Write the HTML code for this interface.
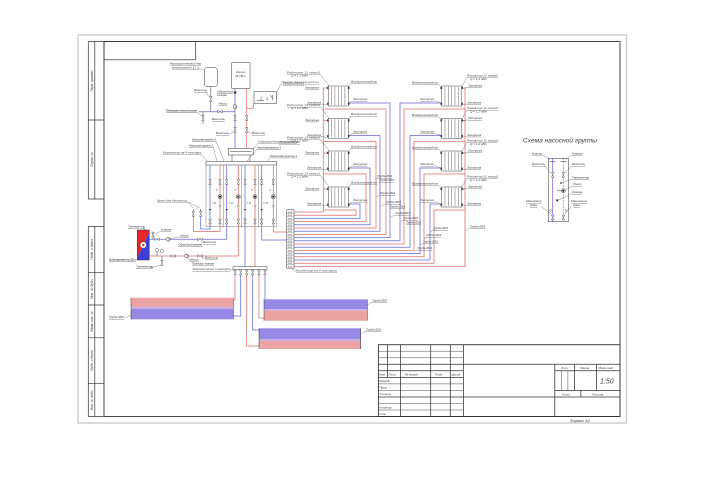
<!DOCTYPE html>
<html><head><meta charset="utf-8"><title>Схема отопления</title>
<style>
html,body{margin:0;padding:0;background:#fff;width:720px;height:480px;overflow:hidden}
svg{display:block}
text{font-family:"Liberation Sans","Noto Sans CJK SC",sans-serif;font-style:italic;fill:#3a3a3a}
.t{font-size:3.1px;text-decoration:underline}
.n{font-size:3.1px}
.s{font-size:3.4px}
.r{stroke:#e36b6b;stroke-width:0.75;fill:none}
.b{stroke:#6a66dd;stroke-width:0.75;fill:none}
.k{stroke:#333;stroke-width:0.5;fill:none}
.l{stroke:#555;stroke-width:0.35;fill:none}
</style></head><body>
<svg width="720" height="480" viewBox="0 0 720 480" xmlns="http://www.w3.org/2000/svg" xmlns:xlink="http://www.w3.org/1999/xlink">
<defs>
 <g id="vv"><path d="M-1.3,-2.4 L1.3,-2.4 L-1.3,2.4 L1.3,2.4 Z" fill="#fff" stroke="#333" stroke-width="0.4"/></g>
 <g id="vh"><path d="M-2.4,-1.3 L-2.4,1.3 L2.4,-1.3 L2.4,1.3 Z" fill="#fff" stroke="#333" stroke-width="0.4"/></g>
 <g id="pump"><circle r="2" fill="#fff" stroke="#333" stroke-width="0.45"/><path d="M-0.9,-1.5 L1.7,0 L-0.9,1.5" fill="none" stroke="#333" stroke-width="0.4"/></g>
 <g id="pumpd"><circle r="2" fill="#fff" stroke="#222" stroke-width="0.5"/><circle r="1.1" fill="#222"/></g>
 <g id="rad">
   <rect x="0" y="0" width="20" height="20" fill="#fff" stroke="#444" stroke-width="0.5"/>
   <path d="M3.3,0.8V19.2 M6.6,0.8V19.2 M10,0.8V19.2 M13.3,0.8V19.2 M16.6,0.8V19.2" stroke="#555" stroke-width="0.45"/>
   <rect x="-1.2" y="0.8" width="1.6" height="2.2" fill="#333"/>
   <rect x="19.6" y="0.8" width="1.6" height="2.2" fill="#333"/>
   <rect x="-1.2" y="16.6" width="1.6" height="2.2" fill="#333"/>
   <rect x="19.6" y="16.6" width="1.6" height="2.2" fill="#333"/>
 </g>
 <pattern id="hl" width="4" height="1.6" patternUnits="userSpaceOnUse"><path d="M0,0.8H4" stroke="#fff" stroke-width="0.35" stroke-opacity="0.35"/></pattern>
</defs>

<!-- sheet & frame -->
<rect x="78" y="35" width="548.5" height="388" fill="none" stroke="#cdcdcd" stroke-width="1.4"/>
<rect x="104" y="41.5" width="516" height="375" fill="none" stroke="#333" stroke-width="0.9"/>
<path d="M88.3,41.5V199 M94.8,41.5V199 M88.3,41.5H104 M88.3,120H104 M88.3,199H104 M88.3,226.4V416.5 M94.8,226.4V416.5 M88.3,226.4H104 M88.3,272.3H104 M88.3,305H104 M88.3,337.8H104 M88.3,383.7H104 M88.3,416.5H104" stroke="#333" stroke-width="0.7" fill="none"/>
<rect x="104" y="41.5" width="91.7" height="18.3" fill="none" stroke="#333" stroke-width="0.7"/>
<g class="s" text-anchor="middle">
<text transform="translate(93,80.7) rotate(-90)" font-size="3.3">Перв. примен.</text>
<text transform="translate(93,159.5) rotate(-90)" font-size="3.3">Справ. №</text>
<text transform="translate(93,249.3) rotate(-90)" font-size="3.3">Подп. и дата</text>
<text transform="translate(93,288.6) rotate(-90)" font-size="3.3">Инв. № дубл.</text>
<text transform="translate(93,321.4) rotate(-90)" font-size="3.3">Взам. инв. №</text>
<text transform="translate(93,360.7) rotate(-90)" font-size="3.3">Подп. и дата</text>
<text transform="translate(93,400) rotate(-90)" font-size="3.3">Инв. № подл.</text>
</g>

<!-- title block -->
<g stroke="#333" fill="none">
<rect x="378.4" y="344.7" width="241.6" height="71.8" stroke-width="0.9"/>
<path stroke-width="0.45" d="M378.4,351.2H463.4 M378.4,357.8H463.4 M378.4,383.9H463.4 M378.4,390.4H463.4 M378.4,403.5H463.4 M378.4,410H463.4"/>
<path stroke-width="0.75" d="M378.4,364.3H620 M378.4,370.8H463.4 M378.4,377.4H463.4 M378.4,397H620 M387.5,344.7V377.4 M400.6,344.7V416.5 M430.7,344.7V416.5 M450.3,344.7V416.5 M463.4,344.7V416.5 M554.8,364.3V416.5 M554.8,370.8H620 M554.8,390.4H620 M574.4,364.3V390.4 M596.6,364.3V390.4 M580.9,390.4V397"/>
<path stroke-width="0.45" d="M561.3,370.8V390.4 M567.9,370.8V390.4"/>
</g>
<g class="n">
<text x="379.2" y="375.5">Изм.</text><text x="388.3" y="375.5">Лист</text><text x="405" y="375.5">№ докум.</text><text x="435" y="375.5">Подп.</text><text x="452" y="375.5">Дата</text>
<text x="379.2" y="382.2">Разраб.</text><text x="379.2" y="388.7">Пров.</text><text x="379.2" y="395.2">Т.контр.</text><text x="379.2" y="408.3">Н.контр.</text><text x="379.2" y="414.8">Утв.</text>
<text x="561" y="369">Лит.</text><text x="580" y="369">Масса</text><text x="598.5" y="369">Масштаб</text>
<text x="562" y="395.3">Лист</text><text x="592" y="395.3">Листов</text>
<text x="570" y="421.8" font-size="3.6">Формат А3</text>
</g>
<text x="600" y="383.5" font-size="7">1:50</text>

<!-- ============ boiler room top ============ -->
<rect x="204.3" y="67.7" width="13" height="19" rx="2.5" fill="#fff" stroke="#333" stroke-width="0.5"/>
<text class="t" x="170" y="64.5" textLength="31">Расширительный бак</text>
<text class="t" x="172" y="68.3" textLength="27">мембранный 12 л</text>
<path class="l" d="M199,69H202L205,71"/>
<path class="k" d="M210.8,86.7V111.7"/>
<use href="#vv" x="210.8" y="99"/>
<text class="t" x="194" y="91">Вентиль</text><path class="l" d="M205,91.5L209.5,97"/>

<rect x="231.7" y="62.7" width="18.3" height="25.6" fill="#fff" stroke="#333" stroke-width="0.5"/>
<text class="n" x="236" y="73">Котел</text>
<text class="n" x="235" y="77">45 кВт</text>

<path class="b" d="M199,111.7H235 M235,88.3V148.3"/>
<path class="r" d="M246.7,88.3V148.3 M246.7,108.3H253.3V103.3"/>
<use href="#vh" x="220" y="111.7"/>
<path class="k" d="M203,111.7V124"/>
<use href="#vv" x="203" y="118"/>
<path d="M233.2,91.6H236.8L235,94.6Z" fill="#333"/>
<use href="#pump" x="235" y="106.7"/>
<use href="#vv" x="235" y="118"/>
<use href="#vv" x="246.7" y="118"/>
<use href="#vv" x="235" y="130"/>
<use href="#vv" x="246.7" y="130"/>
<text class="t" x="217" y="92.5">Обратный</text>
<text class="n" x="217" y="96.2">клапан</text>
<text class="t" x="218.5" y="104.5">Насос</text>
<text class="t" x="166" y="111.3" textLength="31">Предохранительный клапан</text>
<path class="l" d="M197,112L202,116"/>
<text class="t" x="211.7" y="120">Вентиль</text>
<text class="t" x="216" y="134">Вентиль</text><path class="l" d="M229,134.5L234,131"/>
<text class="t" x="252" y="134">Вентиль</text><path class="l" d="M252,134.5L248,131"/>

<rect x="254" y="91.7" width="22.7" height="11.6" fill="#fff" stroke="#333" stroke-width="0.5"/>
<path class="k" d="M257,100.5h7 M261,96.5v4 M267,97v3.5 M270,95l2.5,3.5 M272.5,95v5" stroke-width="0.4"/>
<text class="t" x="281" y="83" textLength="38">Группа безопасности</text>
<path class="l" d="M281,83.6L277,91.5"/>

<rect x="228.3" y="148.3" width="25" height="6.7" fill="#fff" stroke="#333" stroke-width="0.5"/>
<path class="k" d="M230,151.6H251.5" stroke-width="0.35"/>
<path class="k" d="M232,155V161.7 M250,155V161.7"/>
<rect x="206" y="161.7" width="70.7" height="3.3" fill="#fff" stroke="#333" stroke-width="0.5"/>
<text class="t" x="192" y="140.5" textLength="24">Насосная группа 3</text><path class="l" d="M216,141L224,161"/>
<text class="t" x="189" y="146.5" textLength="24">Насосная группа 2</text><path class="l" d="M213,147L217,161"/>
<text class="t" x="163" y="153.5" textLength="38">Коллектор на 4 контура</text><path class="l" d="M201,154L207,161.5"/>
<text class="t" x="258" y="142.7" textLength="39">Гидравлическая стрелка</text><path class="l" d="M258,143.3L253.5,149"/>
<text class="t" x="257" y="148.6" textLength="24">Насосная группа 1</text><path class="l" d="M257,149.2L247,161"/>
<text class="t" x="270" y="156.8" textLength="27">Насосная группа 4</text><path class="l" d="M270,157.4L267,161"/>

<!-- pump groups block -->
<path d="M206,165V226.7H276.7V165 M223.3,165V226.7 M241.7,165V226.7 M258.3,165V226.7" stroke="#555" stroke-width="0.4" fill="none"/>
<path class="b" d="M210,165V226.7 M226.7,165V226.7 M245,165V226.7 M261.7,165V226.7"/>
<path class="r" d="M220,165V226.7 M238.3,165V226.7 M255,165V226.7 M273.3,165V226.7"/>
<g>
<use href="#vv" x="210" y="182"/><use href="#vv" x="220" y="182"/><use href="#vv" x="226.7" y="182"/><use href="#vv" x="238.3" y="182"/>
<use href="#vv" x="245" y="182"/><use href="#vv" x="255" y="182"/><use href="#vv" x="261.7" y="182"/><use href="#vv" x="273.3" y="182"/>
<use href="#pumpd" x="220" y="196.7"/><use href="#pumpd" x="238.3" y="196.7"/><use href="#pumpd" x="255" y="196.7"/><use href="#pumpd" x="273.3" y="196.7"/>
<use href="#vv" x="210" y="221.5"/><use href="#vv" x="220" y="221.5"/><use href="#vv" x="226.7" y="221.5"/><use href="#vv" x="238.3" y="221.5"/>
<use href="#vv" x="245" y="221.5"/><use href="#vv" x="255" y="221.5"/><use href="#vv" x="261.7" y="221.5"/><use href="#vv" x="273.3" y="221.5"/>
</g>
<g fill="#fff" stroke="#333" stroke-width="0.35">
<circle cx="220" cy="206" r="1"/><circle cx="238.3" cy="206" r="1"/><circle cx="255" cy="206" r="1"/><circle cx="273.3" cy="206" r="1"/>
</g>
<g fill="#333">
<path d="M208.8,209h2.4l-1.2,1.8z M225.5,209h2.4l-1.2,1.8z M243.8,209h2.4l-1.2,1.8z M260.5,209h2.4l-1.2,1.8z"/>
</g>
<g class="n">
<text x="216" y="191" font-size="2.3">Н</text><text x="234.5" y="191" font-size="2.3">Н</text><text x="251.2" y="191" font-size="2.3">Н</text><text x="269.5" y="191" font-size="2.3">Н</text>
<text x="212" y="204" font-size="2.3">t° М</text><text x="228.5" y="204" font-size="2.3">t° М</text><text x="246.8" y="204" font-size="2.3">t° М</text><text x="263.5" y="204" font-size="2.3">t° М</text>
</g>

<!-- balancing + DHW -->
<use href="#vv" x="193.3" y="214"/><use href="#vv" x="200.7" y="214"/>
<path class="k" d="M193.3,209V211.6 M200.7,209V211.6"/>
<path class="r" d="M193.3,216.4V231.5H220V226.7"/>
<path class="b" d="M200.7,216.4V229H210V226.7"/>
<text class="t" x="157" y="201.5" textLength="31">Кран для балансир.</text>
<path class="l" d="M188,202L193,208 M188,202L200,208"/>

<polygon points="137.3,230 149.3,230 149.3,232.5 137.3,257.5" fill="#e8262b"/>
<polygon points="149.3,232.5 149.3,260 137.3,260 137.3,257.5" fill="#3b3fd6"/>
<rect x="137.3" y="230" width="12" height="30" fill="none" stroke="#333" stroke-width="0.5"/>
<circle cx="143.3" cy="245" r="3.2" fill="#fff" stroke="#333" stroke-width="0.4"/>
<circle cx="143.3" cy="245" r="1.2" fill="#e8262b"/>
<path class="b" d="M149.3,239.3H226.7V226.7"/>
<path class="r" d="M149.3,256H238.3V226.7"/>
<use href="#vh" x="157" y="239.3"/><use href="#pump" x="168.3" y="239.3"/><use href="#vh" x="200" y="239.3"/>
<use href="#vh" x="173" y="256"/><use href="#pump" x="186.7" y="256"/><use href="#vh" x="200" y="256"/>
<path class="k" d="M153,239.3V232.5 M157,251.3V256 M162,256V262"/>
<use href="#vv" x="153" y="234.5"/>
<circle cx="157" cy="250" r="1.6" fill="#fff" stroke="#333" stroke-width="0.4"/>
<circle cx="162" cy="251" r="1.6" fill="#fff" stroke="#333" stroke-width="0.4"/>
<use href="#vv" x="162" y="263"/>
<text class="t" x="128" y="227.5">Термометр</text><path class="l" d="M143,228L151,234"/>
<text class="t" x="161" y="230.5">Клапан</text><path class="l" d="M161,231L155,234"/>
<text class="t" x="109" y="260.5" textLength="27">Водонагреватель 200 л</text><path class="l" d="M136,261L138,258"/>
<text class="t" x="136" y="267.5">Термометр</text><path class="l" d="M150,268L161,265"/>
<text class="t" x="180" y="236.5">Насос</text><path class="l" d="M180,237L170,238.5"/>
<text class="t" x="178" y="245.5" textLength="24">Обратный клапан</text>
<text class="t" x="203" y="243">Вентиль</text><path class="l" d="M203,243.5L201,241"/>
<text class="t" x="190" y="260.5">Насос</text><path class="l" d="M190,261L188,258"/>
<text class="t" x="205" y="258.5">Вентиль</text><path class="l" d="M205,259L201.5,257.5"/>
<text class="t" x="192" y="264.5" textLength="22">Предохр. клапан</text>

<!-- floor heating collector -->
<path class="b" d="M245,226.7V266.7"/>
<path class="r" d="M255,226.7V266.7"/>
<rect x="233" y="266.7" width="34" height="2.6" fill="#fff" stroke="#333" stroke-width="0.45"/>
<g>
<use href="#vv" x="235" y="272.5"/><use href="#vv" x="240.7" y="272.5"/><use href="#vv" x="246.7" y="272.5"/>
<use href="#vv" x="252.7" y="272.5"/><use href="#vv" x="259" y="272.5"/><use href="#vv" x="265" y="272.5"/>
</g>
<path class="r" d="M235,274.9V300H233.3 M246.7,274.9V346H259 M259,274.9V318H264"/>
<path class="b" d="M240.7,274.9V316H233.3 M252.7,274.9V330H259 M265,274.9V299.3"/>
<text class="t" x="193" y="270" textLength="37">Коллектор на 3 контура</text><path class="l" d="M230,270.5L233.5,269"/>

<!-- floor loops -->
<rect x="131" y="297.7" width="102.3" height="9" fill="#eb9c9c"/>
<rect x="131" y="306.7" width="102.3" height="2.3" fill="#c9a6dc"/>
<rect x="131" y="309" width="102.3" height="10.3" fill="#8d80e4"/>
<rect x="131" y="297.7" width="102.3" height="21.6" fill="url(#hl)"/>
<path class="k" d="M131,297.7V319.3 M233.3,297.7V319.3" stroke-width="0.4"/>
<text class="t" x="109" y="318">Труба Ø20</text><path class="l" d="M125,318.5L131,315"/>

<rect x="264" y="299.3" width="103.3" height="10" fill="#8d80e4"/>
<rect x="264" y="309.3" width="103.3" height="1.4" fill="#c9a6dc"/>
<rect x="264" y="310.7" width="103.3" height="10" fill="#eb9c9c"/>
<rect x="264" y="299.3" width="103.3" height="21.4" fill="url(#hl)"/>
<path class="k" d="M264,299.3V320.7 M367.3,299.3V320.7" stroke-width="0.4"/>
<text class="t" x="372" y="301.5">Труба Ø20</text><path class="l" d="M372,302L367.5,305"/>

<rect x="259" y="328.3" width="101.7" height="11" fill="#8d80e4"/>
<rect x="259" y="339.3" width="101.7" height="1.7" fill="#c9a6dc"/>
<rect x="259" y="341" width="101.7" height="8" fill="#eb9c9c"/>
<rect x="259" y="328.3" width="101.7" height="20.7" fill="url(#hl)"/>
<path class="k" d="M259,328.3V349 M360.7,328.3V349" stroke-width="0.4"/>
<text class="t" x="366" y="330.5">Труба Ø20</text><path class="l" d="M366,331L361,334"/>

<!-- ============ radiators ============ -->
<path class="r" d="M328.3,88H323.3V212H294 M323.3,120.5H328.3 M323.3,153H328.3 M323.3,189H328.3"/>
<path class="r" d="M323.3,109H386V234.4H294 M323.3,141.5H376V228H294 M323.3,174H366V221.6H294 M323.3,210H356V215.2H294"/>
<path class="b" d="M348.3,103H390V237.6H294 M348.3,135.5H380V231.2H294 M348.3,168H370V224.8H294 M348.3,204H360V218.4H294"/>
<path class="r" d="M461.7,88H465V266.4H294 M461.7,120.5H465 M461.7,153H465 M461.7,189H465"/>
<path class="r" d="M465,109H404V244H294 M465,141.5H414V250.4H294 M465,174H424V256.8H294 M465,210H434V263.2H294"/>
<path class="b" d="M441.7,103H400V240.8H294 M441.7,135.5H410V247.2H294 M441.7,168H420V253.6H294 M441.7,204H430V260H294"/>
<path class="b" d="M261.7,226.7V240H286.7"/>
<path class="r" d="M273.3,226.7V232H286.7"/>

<rect x="286.7" y="209.8" width="7.3" height="58.4" fill="#fff" stroke="#333" stroke-width="0.5"/>
<path class="l" d="M286.7,213.6h7.3 M286.7,216.8h7.3 M286.7,220h7.3 M286.7,223.2h7.3 M286.7,226.4h7.3 M286.7,229.6h7.3 M286.7,232.8h7.3 M286.7,236h7.3 M286.7,239.2h7.3 M286.7,242.4h7.3 M286.7,245.6h7.3 M286.7,248.8h7.3 M286.7,252h7.3 M286.7,255.2h7.3 M286.7,258.4h7.3 M286.7,261.6h7.3 M286.7,264.8h7.3"/>
<g font-size="2.2">
<text x="287.8" y="213">Ø16</text><text x="287.8" y="216.2">Ø16</text><text x="287.8" y="219.4">Ø16</text><text x="287.8" y="222.6">Ø16</text><text x="287.8" y="225.8">Ø16</text><text x="287.8" y="229">Ø16</text><text x="287.8" y="232.2">Ø16</text><text x="287.8" y="235.4">Ø16</text><text x="287.8" y="238.6">Ø16</text><text x="287.8" y="241.8">Ø16</text><text x="287.8" y="245">Ø16</text><text x="287.8" y="248.2">Ø16</text><text x="287.8" y="251.4">Ø16</text><text x="287.8" y="254.6">Ø16</text><text x="287.8" y="257.8">Ø16</text><text x="287.8" y="261">Ø16</text><text x="287.8" y="264.2">Ø16</text><text x="287.8" y="267.4">Ø16</text>
</g>
<text class="t" x="296" y="271.6" textLength="41">Коллектор на 8 контуров</text><path class="l" d="M296,272.2L292,268.5"/>

<use href="#rad" x="328.3" y="86"/><use href="#rad" x="328.3" y="118.5"/><use href="#rad" x="328.3" y="151"/><use href="#rad" x="328.3" y="187"/>
<use href="#rad" x="441.7" y="86"/><use href="#rad" x="441.7" y="118.5"/><use href="#rad" x="441.7" y="151"/><use href="#rad" x="441.7" y="187"/>

<g>
<text class="t" x="287" y="73.5" textLength="33">Радиатор 11 секций</text><text class="n" x="291" y="76.7">Q = 1,2 кВт</text><path class="l" d="M320,74L329,85.5"/>
<text class="t" x="305" y="88.3">Заглушка</text>
<text class="t" x="351" y="82.7" textLength="26">Воздухоотводчик</text><path class="l" d="M351,83.3L348.5,87"/>
<text class="t" x="353" y="100">Заглушка</text><path class="l" d="M353,100.6L349,103"/>
<text class="t" x="307" y="103.3">Заглушка</text><path class="l" d="M321,103.9L327.5,105"/>
<text class="t" x="283" y="84" textLength="21">Термоклапан</text>

<text class="t" x="287" y="106" textLength="33">Радиатор 11 секций</text><text class="n" x="291" y="109.2">Q = 1,2 кВт</text><path class="l" d="M320,106.5L329,118"/>
<text class="t" x="305" y="120.8">Заглушка</text>
<text class="t" x="351" y="115.2" textLength="26">Воздухоотводчик</text><path class="l" d="M351,115.8L348.5,119.5"/>
<text class="t" x="353" y="132.5">Заглушка</text><path class="l" d="M353,133.1L349,135.5"/>
<text class="t" x="307" y="135.8">Заглушка</text><path class="l" d="M321,136.4L327.5,137.5"/>

<text class="t" x="287" y="138.5" textLength="33">Радиатор 11 секций</text><text class="n" x="291" y="141.7">Q = 1,2 кВт</text><path class="l" d="M320,139L329,150.5"/>
<text class="t" x="305" y="153.3">Заглушка</text>
<text class="t" x="351" y="147.7" textLength="26">Воздухоотводчик</text><path class="l" d="M351,148.3L348.5,152"/>
<text class="t" x="353" y="165">Заглушка</text><path class="l" d="M353,165.6L349,168"/>
<text class="t" x="307" y="168.3">Заглушка</text><path class="l" d="M321,168.9L327.5,170"/>
<text class="t" x="279" y="143" textLength="21">Термоклапан</text>

<text class="t" x="287" y="174.5" textLength="33">Радиатор 11 секций</text><text class="n" x="291" y="177.7">Q = 1,2 кВт</text><path class="l" d="M320,175L329,186.5"/>
<text class="t" x="305" y="189.3">Заглушка</text>
<text class="t" x="351" y="183.7" textLength="26">Воздухоотводчик</text><path class="l" d="M351,184.3L348.5,188"/>
<text class="t" x="353" y="201">Заглушка</text><path class="l" d="M353,201.6L349,204"/>
<text class="t" x="307" y="204.3">Заглушка</text><path class="l" d="M321,204.9L327.5,206"/>
</g>

<g>
<text class="t" x="467" y="76.7" textLength="31">Радиатор 11 секций</text><text class="n" x="470" y="80">Q = 1,2 кВт</text><path class="l" d="M467,77.3L462,86"/>
<text class="t" x="468" y="86.7">Заглушка</text><path class="l" d="M468,87.3L462.5,88.5"/>
<text class="t" x="412" y="83.3" textLength="26">Воздухоотводчик</text><path class="l" d="M438,83.9L441.5,87"/>
<text class="t" x="420" y="100">Заглушка</text><path class="l" d="M434,100.6L441,103"/>
<text class="t" x="467" y="103.3">Заглушка</text><path class="l" d="M467,103.9L462,105"/>

<text class="t" x="467" y="109.2" textLength="31">Радиатор 11 секций</text><text class="n" x="470" y="112.5">Q = 1,2 кВт</text><path class="l" d="M467,109.8L462,118.5"/>
<text class="t" x="468" y="119.2">Заглушка</text><path class="l" d="M468,119.8L462.5,121"/>
<text class="t" x="412" y="115.8" textLength="26">Воздухоотводчик</text><path class="l" d="M438,116.4L441.5,119.5"/>
<text class="t" x="420" y="132.5">Заглушка</text><path class="l" d="M434,133.1L441,135.5"/>
<text class="t" x="467" y="135.8">Заглушка</text><path class="l" d="M467,136.4L462,137.5"/>

<text class="t" x="467" y="141.7" textLength="31">Радиатор 11 секций</text><text class="n" x="470" y="145">Q = 1,2 кВт</text><path class="l" d="M467,142.3L462,151"/>
<text class="t" x="468" y="151.7">Заглушка</text><path class="l" d="M468,152.3L462.5,153.5"/>
<text class="t" x="412" y="148.3" textLength="26">Воздухоотводчик</text><path class="l" d="M438,148.9L441.5,152"/>
<text class="t" x="420" y="165">Заглушка</text><path class="l" d="M434,165.6L441,168"/>
<text class="t" x="467" y="168.3">Заглушка</text><path class="l" d="M467,168.9L462,170"/>

<text class="t" x="467" y="177.7" textLength="31">Радиатор 11 секций</text><text class="n" x="470" y="181">Q = 1,2 кВт</text><path class="l" d="M467,178.3L462,187"/>
<text class="t" x="468" y="187.7">Заглушка</text><path class="l" d="M468,188.3L462.5,189.5"/>
<text class="t" x="412" y="184.3" textLength="26">Воздухоотводчик</text><path class="l" d="M438,184.9L441.5,188"/>
<text class="t" x="420" y="201">Заглушка</text><path class="l" d="M434,201.6L441,204"/>
<text class="t" x="467" y="204.3">Заглушка</text><path class="l" d="M467,204.9L462,206"/>
</g>

<g>
<text class="t" x="377" y="177">Труба Ø16</text><path class="l" d="M377,177.6L375.5,180"/>
<text class="t" x="379" y="181">Труба Ø16</text>
<text class="t" x="380" y="194">Труба Ø16</text><path class="l" d="M380,194.6L376.5,197"/>
<text class="t" x="386" y="203">Труба Ø16</text><path class="l" d="M386,203.6L381,206"/>
<text class="t" x="390" y="207.5">Труба Ø16</text>
<text class="t" x="395" y="214">Труба Ø16</text><path class="l" d="M395,214.6L391,217"/>
<text class="t" x="403" y="219">Труба Ø16</text><path class="l" d="M403,219.6L401,222"/>
<text class="t" x="406" y="223.5">Труба Ø16</text>
<text class="t" x="433" y="229">Труба Ø16</text><path class="l" d="M433,229.6L431,232"/>
<text class="t" x="426" y="236">Труба Ø16</text><path class="l" d="M426,236.6L424.5,239"/>
<text class="t" x="423" y="242.5">Труба Ø16</text><path class="l" d="M423,243.1L420.5,245"/>
<text class="t" x="417" y="249">Труба Ø16</text><path class="l" d="M417,249.6L414.5,251.5"/>
<text class="t" x="470" y="227.5">Труба Ø16</text><path class="l" d="M470,228.1L465.5,231"/>
</g>

<!-- ============ pump group scheme ============ -->
<text x="523" y="142.5" font-size="6" textLength="74" lengthAdjust="spacingAndGlyphs" fill="#222">Схема насосной группы</text>
<rect x="548.3" y="158.3" width="20" height="63.4" fill="none" stroke="#333" stroke-width="0.5"/>
<path class="b" d="M552.7,158.3V221.7"/>
<path class="r" d="M563.3,158.3V221.7" stroke-dasharray="2 1"/>
<path class="k" d="M549.5,161.5h6 M560.5,161.5h6"/>
<use href="#vv" x="552.7" y="175"/><use href="#vv" x="563.3" y="175"/>
<circle cx="561" cy="183" r="0.9" fill="#333"/>
<path class="k" d="M557,190.7H561.3"/>
<use href="#pumpd" x="563.3" y="190.7"/>
<path d="M555.5,199.5h3.5l-1.75,2.5z" fill="#333"/>
<circle cx="550.5" cy="210.5" r="1" fill="#fff" stroke="#333" stroke-width="0.35"/>
<circle cx="566" cy="210.5" r="1" fill="#fff" stroke="#333" stroke-width="0.35"/>
<use href="#vv" x="552.7" y="217.5"/><use href="#vv" x="563.3" y="217.5"/>
<g>
<text class="t" x="532" y="154.5">Клапан</text><path class="l" d="M543,155L550,159.5"/>
<text class="t" x="532" y="165">Вентиль</text><path class="l" d="M544,165.5L551,173"/>
<text class="t" x="526" y="202">Манометр</text>
<text class="t" x="530" y="206">Кран</text><path class="l" d="M541,206.5L551,214"/>
<text class="t" x="572" y="154.5">Клапан</text><path class="l" d="M572,155L566,159.5"/>
<text class="t" x="572" y="165">Вентиль</text><path class="l" d="M572,165.5L565,173"/>
<text class="t" x="572" y="178.5">Термометр</text><path class="l" d="M572,179L562,183"/>
<text class="t" x="573" y="185">Насос</text><path class="l" d="M573,185.5L565.5,190"/>
<text class="t" x="572" y="193">Клапан</text><path class="l" d="M572,193.5L559,200"/>
<text class="t" x="571" y="202">Манометр</text>
<text class="t" x="573" y="206">Кран</text><path class="l" d="M571,206.5L565,214"/>
</g>
</svg>
</body></html>
